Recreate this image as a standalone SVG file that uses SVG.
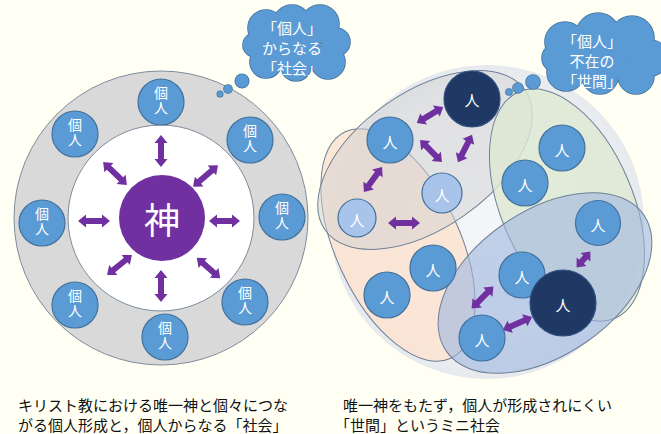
<svg xmlns="http://www.w3.org/2000/svg" xmlns:xlink="http://www.w3.org/1999/xlink" width="661" height="434" viewBox="0 0 661 434">
<style>
text{font-family:"Noto Sans CJK JP","Noto Sans",sans-serif;dominant-baseline:central;text-anchor:middle}
.w{fill:#ffffff;font-size:15px}
.k{fill:#ffffff;font-size:14px;writing-mode:vertical-rl;letter-spacing:1px}
.cap{fill:#111111;font-size:15px;text-anchor:start}
.ind{fill:#5b9bd5;stroke:#41719c;stroke-width:1.2}
.lt{fill:#a9c4ea;stroke:#41719c;stroke-width:1.2}
.dk{fill:#1f3864;stroke:#2f4f80;stroke-width:1.2}
.arr{fill:#7030a0}
.cl{fill:#5b9bd5}
.clo{fill:#5b9bd5;stroke:#41719c;stroke-width:1.6}
.ell{stroke:#6d8198;stroke-width:1}
</style>
<defs>
<radialGradient id="bg" cx="0.5" cy="0.5" r="0.5">
<stop offset="0" stop-color="#f5f6f8"/>
<stop offset="0.85" stop-color="#eef0f3"/>
<stop offset="1" stop-color="#e6e9ed"/>
</radialGradient>
<g id="cloudL">
<circle cx="266" cy="28" r="18"/><circle cx="292" cy="24" r="19"/><circle cx="320" cy="24" r="19"/>
<circle cx="336" cy="42" r="14"/><circle cx="328" cy="62" r="17"/><circle cx="296" cy="66" r="15"/>
<circle cx="266" cy="62" r="16"/><circle cx="255" cy="45" r="12"/><circle cx="292" cy="44" r="28"/>
<circle cx="242" cy="81" r="6.7"/><circle cx="228" cy="89" r="4"/><circle cx="220" cy="94" r="2.7"/>
</g>
<g id="cloudR">
<circle cx="565" cy="42" r="20"/><circle cx="598" cy="35" r="22"/><circle cx="632" cy="38" r="22"/>
<circle cx="650" cy="58" r="18"/><circle cx="636" cy="76" r="18"/><circle cx="600" cy="76" r="18"/>
<circle cx="566" cy="72" r="19"/><circle cx="556" cy="58" r="14"/><circle cx="598" cy="56" r="30"/>
<circle cx="533" cy="82" r="7"/><circle cx="518" cy="88" r="5"/><circle cx="509" cy="92" r="3"/>
</g>
</defs>
<rect width="661" height="434" fill="#fffff4"/>

<!-- left diagram background -->
<g id="society-ring">
<circle cx="161" cy="218" r="147" fill="#d9d9d9" stroke="#7f8c9d" stroke-width="1"/>
<circle cx="161" cy="218" r="93" fill="#ffffff" stroke="#7f8c9d" stroke-width="1"/>
</g>

<!-- right diagram background -->
<g id="seken-area">
<circle cx="487" cy="222" r="157" fill="url(#bg)"/>
<ellipse class="ell" cx="398" cy="245" rx="125" ry="62" transform="rotate(65 398 245)" fill="#fbe3d0" fill-opacity="0.85"/>
<ellipse class="ell" cx="425" cy="160" rx="122" ry="68" transform="rotate(-35 425 160)" fill="#d2d2d2" fill-opacity="0.5"/>
<ellipse class="ell" cx="567" cy="205" rx="123" ry="66" transform="rotate(67 567 205)" fill="#dde9d2" fill-opacity="0.8"/>
<ellipse class="ell" cx="545" cy="283" rx="120" ry="72" transform="rotate(-34.6 545 283)" fill="#9fb5e0" fill-opacity="0.6"/>
</g>

<!-- clouds -->
<g id="cloud-left">
<use xlink:href="#cloudL" class="clo"/>
<use xlink:href="#cloudL" class="cl"/>
<text class="w" x="292" y="27">「個人」</text>
<text class="w" x="292" y="47">からなる</text>
<text class="w" x="292" y="67">「社会」</text>
</g>
<g id="cloud-right">
<use xlink:href="#cloudR" class="clo"/>
<use xlink:href="#cloudR" class="cl"/>
<text class="w" x="592" y="40">「個人」</text>
<text class="w" x="592" y="60">不在の</text>
<text class="w" x="592" y="80">「世間」</text>
</g>

<!-- connectors -->
<g id="connectors">
<path class="arr" transform="translate(161 151) rotate(90)" d="M-16 0l8-6.5v3.5h16v-3.5l8 6.5l-8 6.5v-3.5h-16v3.5z"/>
<path class="arr" transform="translate(161 286) rotate(90)" d="M-16 0l8-6.5v3.5h16v-3.5l8 6.5l-8 6.5v-3.5h-16v3.5z"/>
<path class="arr" transform="translate(94 221)" d="M-16 0l8-6.5v3.5h16v-3.5l8 6.5l-8 6.5v-3.5h-16v3.5z"/>
<path class="arr" transform="translate(224.5 221)" d="M-15.5 0l8-6.5v3.5h15v-3.5l8 6.5l-8 6.5v-3.5h-15v3.5z"/>
<path class="arr" transform="translate(115 173.5) rotate(44)" d="M-16.5 0l8-6.5v3.5h17v-3.5l8 6.5l-8 6.5v-3.5h-17v3.5z"/>
<path class="arr" transform="translate(205.5 176) rotate(-41)" d="M-16.5 0l8-6.5v3.5h17v-3.5l8 6.5l-8 6.5v-3.5h-17v3.5z"/>
<path class="arr" transform="translate(119.5 265) rotate(-39)" d="M-16 0l8-6.5v3.5h16v-3.5l8 6.5l-8 6.5v-3.5h-16v3.5z"/>
<path class="arr" transform="translate(208.5 268) rotate(41)" d="M-15.5 0l8-6.5v3.5h15v-3.5l8 6.5l-8 6.5v-3.5h-15v3.5z"/>

<path class="arr" transform="translate(430 115) rotate(-31.6)" d="M-15.5 0l8-6.5v3.5h15v-3.5l8 6.5l-8 6.5v-3.5h-15v3.5z"/>
<path class="arr" transform="translate(431 151) rotate(45)" d="M-15.5 0l8-6.5v3.5h15v-3.5l8 6.5l-8 6.5v-3.5h-15v3.5z"/>
<path class="arr" transform="translate(465 148.5) rotate(117)" d="M-15.5 0l8-6.5v3.5h15v-3.5l8 6.5l-8 6.5v-3.5h-15v3.5z"/>
<path class="arr" transform="translate(373 179.5) rotate(126)" d="M-15.5 0l8-6.5v3.5h15v-3.5l8 6.5l-8 6.5v-3.5h-15v3.5z"/>
<path class="arr" transform="translate(404 223)" d="M-16 0l8-6.5v3.5h16v-3.5l8 6.5l-8 6.5v-3.5h-16v3.5z"/>
<path class="arr" transform="translate(583.5 259.5) rotate(-49)" d="M-10.5 0l7.5-6.5v3.5h6v-3.5l7.5 6.5l-7.5 6.5v-3.5h-6v3.5z"/>
<path class="arr" transform="translate(517.5 323.5) rotate(-24)" d="M-16 0l8-6.5v3.5h16v-3.5l8 6.5l-8 6.5v-3.5h-16v3.5z"/>
<path class="arr" transform="translate(482.5 297.5) rotate(135)" d="M-15.5 0l8-6.5v3.5h15v-3.5l8 6.5l-8 6.5v-3.5h-15v3.5z"/>
</g>

<!-- left nodes -->
<g id="god"><circle cx="162" cy="218" r="43" fill="#7030a0"/><text x="162" y="218" fill="#ffffff" font-size="36">神</text></g>
<g id="kojin-top"><circle class="ind" cx="161" cy="102" r="23"/><text class="k" x="161" y="101">個人</text></g>
<g id="kojin-ul"><circle class="ind" cx="75" cy="134" r="23"/><text class="k" x="75" y="133">個人</text></g>
<g id="kojin-ur"><circle class="ind" cx="250" cy="140" r="23"/><text class="k" x="250" y="139">個人</text></g>
<g id="kojin-l"><circle class="ind" cx="42" cy="223" r="23"/><text class="k" x="42" y="222">個人</text></g>
<g id="kojin-r"><circle class="ind" cx="282" cy="217" r="23"/><text class="k" x="282" y="216">個人</text></g>
<g id="kojin-ll"><circle class="ind" cx="75" cy="305" r="23"/><text class="k" x="75" y="304">個人</text></g>
<g id="kojin-lr"><circle class="ind" cx="245" cy="302" r="23"/><text class="k" x="245" y="301">個人</text></g>
<g id="kojin-b"><circle class="ind" cx="165" cy="337" r="23"/><text class="k" x="165" y="336">個人</text></g>

<!-- right nodes -->
<g id="hito-dark-top"><circle class="dk" cx="472" cy="99" r="28"/><text class="w" x="472" y="99">人</text></g>
<g id="hito-ul"><circle class="ind" cx="390" cy="140" r="23"/><text class="w" x="390" y="141">人</text></g>
<g id="hito-light-mid"><circle class="lt" cx="442" cy="193" r="20"/><text class="w" x="442" y="194">人</text></g>
<g id="hito-light-left"><circle class="lt" cx="357" cy="218" r="19"/><text class="w" x="357" y="219">人</text></g>
<g id="hito-o1"><circle class="ind" cx="433" cy="268" r="23"/><text class="w" x="433" y="269">人</text></g>
<g id="hito-o2"><circle class="ind" cx="387" cy="295" r="23"/><text class="w" x="387" y="296">人</text></g>
<g id="hito-g1"><circle class="ind" cx="562" cy="148" r="23"/><text class="w" x="562" y="149">人</text></g>
<g id="hito-g2"><circle class="ind" cx="525" cy="183" r="23"/><text class="w" x="525" y="184">人</text></g>
<g id="hito-r"><circle class="ind" cx="598" cy="223" r="22.5"/><text class="w" x="598" y="224">人</text></g>
<g id="hito-cl"><circle class="ind" cx="522" cy="275" r="23"/><text class="w" x="522" y="276">人</text></g>
<g id="hito-dark-bottom"><circle class="dk" cx="563" cy="303" r="33"/><text class="w" x="563" y="304">人</text></g>
<g id="hito-b"><circle class="ind" cx="482" cy="338" r="23"/><text class="w" x="482" y="339">人</text></g>

<!-- captions -->
<g id="captions">
<text class="cap" x="18" y="404">キリスト教における唯一神と個々につな</text>
<text class="cap" x="18" y="424">がる個人形成と，個人からなる「社会」</text>
<text class="cap" x="343" y="404">唯一神をもたず，個人が形成されにくい</text>
<text class="cap" x="335" y="424">「世間」というミニ社会</text>
</g>
</svg>
